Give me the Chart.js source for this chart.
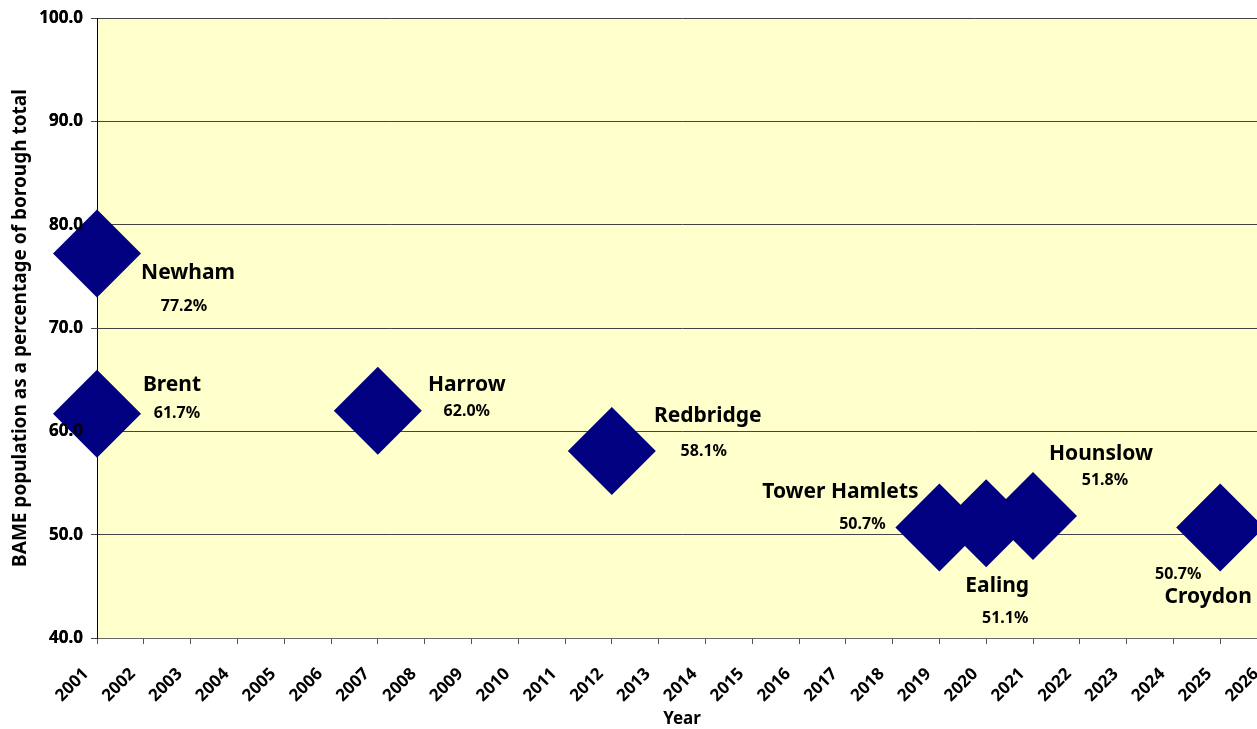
<!DOCTYPE html>
<html>
<head>
<meta charset="utf-8">
<script src="https://cdn.jsdelivr.net/npm/chart.js@4/dist/chart.umd.min.js"></script>
<style>
  html, body { margin: 0; padding: 0; background: #fff; overflow: hidden; }
  #wrap { width: 1290px; height: 729px; }
</style>
</head>
<body>
<div id="wrap"><canvas id="bameChart" width="1290" height="729"></canvas></div>
<script>
// --- data ---
const boroughs = ['Newham', 'Brent', 'Harrow', 'Redbridge', 'Tower Hamlets', 'Ealing', 'Hounslow', 'Croydon'];
const years = [2001, 2001, 2007, 2012, 2019, 2020, 2021, 2025];
const shares = [77.2, 61.7, 62.0, 58.1, 50.7, 51.1, 51.8, 50.7];
const yearMin = 2001, yearMax = 2026;
const shareMin = 40, shareMax = 100, shareStep = 10;

// label placement (px offsets from each diamond): [nameDx, nameDy, pctDx, pctDy]
const labelOffsets = [
  [91, 19, 87, 53],
  [75, -29, 80, 0],
  [89, -26, 89, 1],
  [96, -35, 92, 0],
  [-99, -35, -77, -3],
  [11, 63, 19, 95],
  [68, -62, 72, -36],
  [-12, 70, -42, 47]
];

const FONT = '"Noto Sans", "DejaVu Sans", sans-serif';

const plotBackground = {
  id: 'plotBackground',
  beforeDraw(chart) {
    const { ctx, chartArea: a } = chart;
    ctx.save();
    ctx.fillStyle = '#FFFFCC';
    ctx.fillRect(a.left, a.top, a.right - a.left, a.bottom - a.top);
    ctx.restore();
  }
};

const boroughLabels = {
  id: 'boroughLabels',
  afterDatasetsDraw(chart) {
    const { ctx } = chart;
    // value labels on the y axis sit above the diamonds in the original
    chart.scales.y.drawLabels(chart.chartArea);
    const pts = chart.getDatasetMeta(0).data;
    ctx.save();
    ctx.fillStyle = '#000';
    ctx.textAlign = 'center';
    ctx.textBaseline = 'middle';
    pts.forEach((p, i) => {
      const o = labelOffsets[i];
      ctx.font = 'bold 21px ' + FONT;
      ctx.fillText(boroughs[i], p.x + o[0], p.y + o[1]);
      ctx.font = 'bold 16px ' + FONT;
      ctx.fillText(shares[i].toFixed(1) + '%', p.x + o[2], p.y + o[3]);
    });
    ctx.restore();
  }
};

// keep the plot box where the original has it
function noPadding(s) {
  s.paddingTop = 0; s.paddingBottom = 0; s.paddingLeft = 0; s.paddingRight = 0;
}

new Chart(document.getElementById('bameChart'), {
  type: 'scatter',
  data: {
    datasets: [{
      label: 'BAME share',
      data: years.map((y, i) => ({ x: y, y: shares[i] })),
      backgroundColor: '#000080',
      borderWidth: 0,
      pointStyle: 'rectRot',
      pointRadius: 44,
      pointHoverRadius: 44,
      clip: false
    }]
  },
  options: {
    responsive: false,
    animation: false,
    layout: { autoPadding: false, padding: { top: 18, right: 23, left: 0, bottom: 0 } },
    plugins: { legend: { display: false }, tooltip: { enabled: false } },
    scales: {
      x: {
        type: 'linear',
        min: yearMin,
        max: yearMax,
        afterFit(s) { s.height = 91; noPadding(s); },
        ticks: {
          stepSize: 1,
          autoSkip: false,
          maxRotation: 45,
          minRotation: 45,
          padding: 20,
          labelOffset: -11,
          color: '#000',
          font: { family: FONT, size: 17, weight: 'bold' },
          callback: v => String(v)
        },
        grid: { drawOnChartArea: false, drawTicks: true, tickLength: 6, color: '#555' },
        border: { color: '#666', width: 1 },
        title: {
          display: true,
          text: 'Year',
          color: '#000',
          font: { family: FONT, size: 17, weight: 'bold' },
          padding: { top: 0, bottom: 0 }
        }
      },
      y: {
        min: shareMin,
        max: shareMax,
        afterFit(s) { s.width = 97; noPadding(s); },
        ticks: {
          stepSize: shareStep,
          padding: 8,
          color: '#000',
          font: { family: FONT, size: 17, weight: 'bold' },
          callback: v => v.toFixed(1)
        },
        grid: { color: '#444', tickLength: 6 },
        border: { color: '#000', width: 1 },
        title: {
          display: true,
          text: 'BAME population as a percentage of borough total',
          color: '#000',
          font: { family: FONT, size: 19, weight: 'bold' },
          padding: { top: 9, bottom: 0 }
        }
      }
    }
  },
  plugins: [plotBackground, boroughLabels]
});
</script>
</body>
</html>
